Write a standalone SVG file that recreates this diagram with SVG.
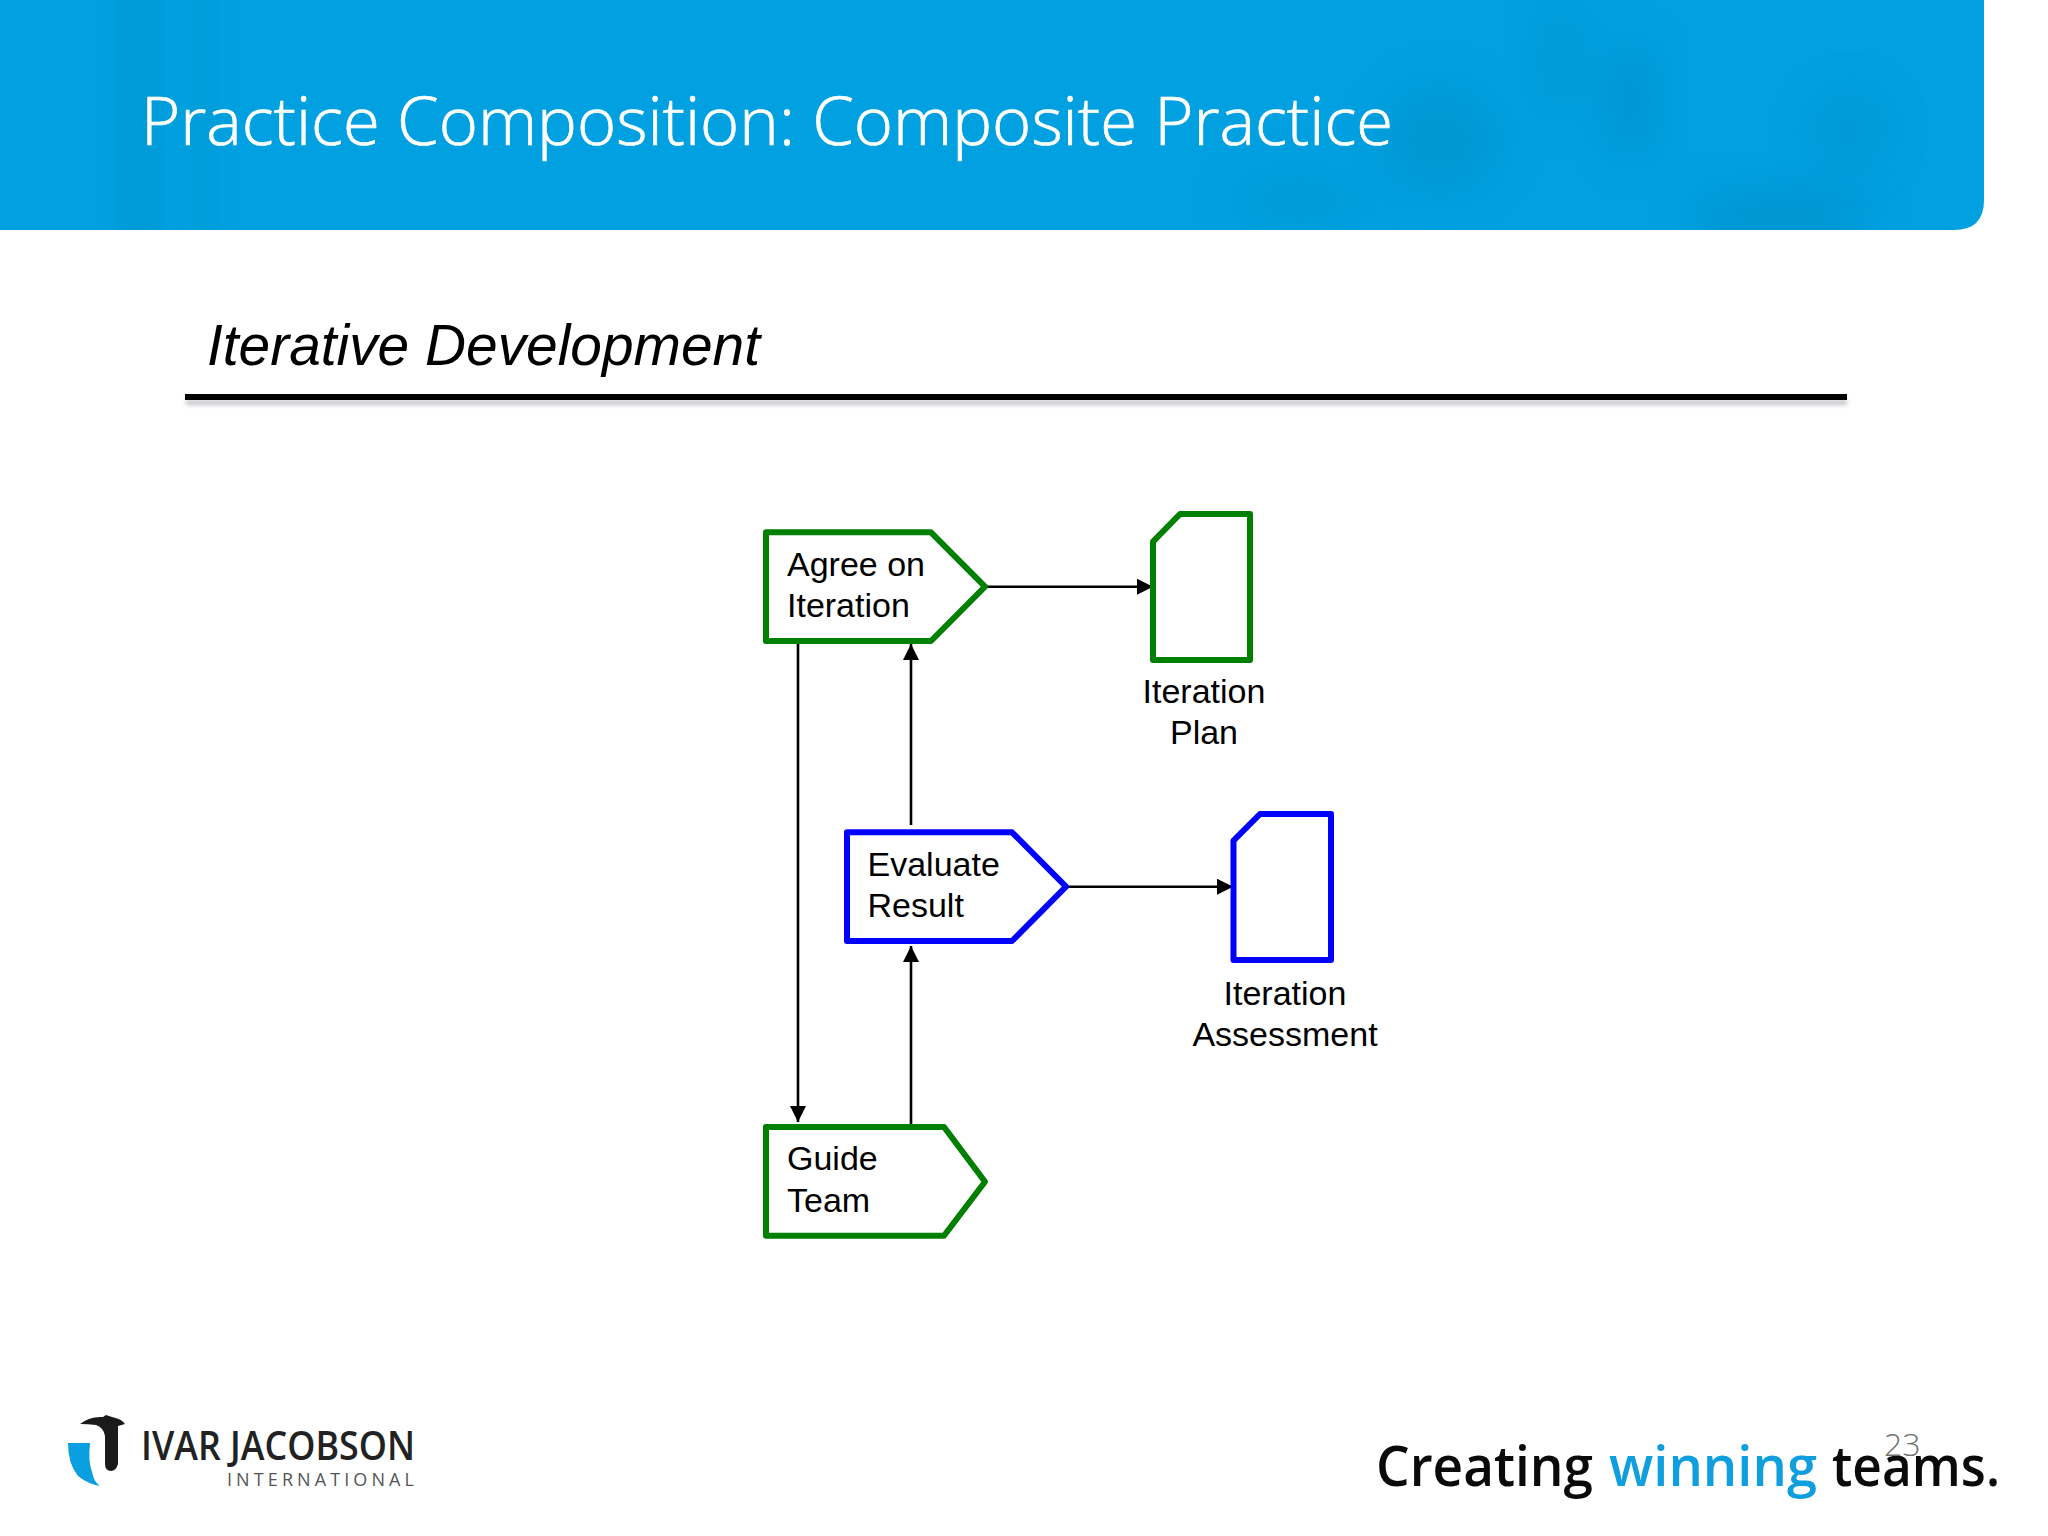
<svg xmlns="http://www.w3.org/2000/svg" width="2048" height="1536" viewBox="0 0 2048 1536">
<defs>
<style>
.g{fill:#fff;stroke:#008000;stroke-width:6;stroke-linejoin:round}
.b{fill:#fff;stroke:#0000ff;stroke-width:6;stroke-linejoin:round}
.t{font-family:"Liberation Sans",Arial,sans-serif;font-size:34px;fill:#000}
.m{text-anchor:middle}
.c{fill:none;stroke:#000;stroke-width:2.6}
.hdr{font-family:"Open Sans","Noto Sans",sans-serif}
</style>
<marker id="arr" viewBox="0 0 16 16" refX="16" refY="8" markerWidth="16" markerHeight="16" markerUnits="userSpaceOnUse" orient="auto"><path d="M0 0L16 8L0 16Z" fill="#000"/></marker>
<filter id="blur" x="-60%" y="-60%" width="220%" height="220%"><feGaussianBlur stdDeviation="20"/></filter>
<filter id="blurx" x="-100%" y="-10%" width="300%" height="120%"><feGaussianBlur stdDeviation="10 0"/></filter>
<filter id="sh" x="-2%" y="-200%" width="104%" height="500%"><feGaussianBlur stdDeviation="2"/></filter>
<clipPath id="hc"><path d="M0 0H1984V200Q1984 230 1954 230H0Z"/></clipPath>
</defs>
<rect width="2048" height="1536" fill="#fff"/>
<g id="header">
<path d="M0 0H1984V200Q1984 230 1954 230H0Z" fill="#01a0e0"/>
<g clip-path="url(#hc)">
<rect x="120" y="0" width="40" height="230" fill="#0090c4" opacity=".3" filter="url(#blurx)"/>
<rect x="190" y="0" width="30" height="230" fill="#0090c4" opacity=".2" filter="url(#blurx)"/>
<ellipse cx="1560" cy="60" rx="24" ry="60" fill="#0090c8" opacity=".4" filter="url(#blur)"/>
<ellipse cx="1440" cy="140" rx="60" ry="55" fill="#0090c8" opacity=".5" filter="url(#blur)"/>
<ellipse cx="1630" cy="100" rx="25" ry="60" fill="#008cc4" opacity=".55" filter="url(#blur)"/>
<ellipse cx="1850" cy="130" rx="40" ry="40" fill="#0090c8" opacity=".4" filter="url(#blur)"/>
<ellipse cx="1780" cy="215" rx="90" ry="26" fill="#008cc4" opacity=".55" filter="url(#blur)"/>
<ellipse cx="1300" cy="200" rx="70" ry="30" fill="#0090c8" opacity=".3" filter="url(#blur)"/>
</g>
<text x="141" y="145" class="hdr" font-size="66" font-weight="300" fill="#fff" stroke="#fff" stroke-width=".7" textLength="1252" lengthAdjust="spacingAndGlyphs">Practice Composition: Composite Practice</text>
</g>
<g id="subtitle">
<text x="207" y="365" font-family="'Liberation Sans',Arial,sans-serif" font-style="italic" font-size="57" fill="#000" textLength="553" lengthAdjust="spacingAndGlyphs">Iterative Development</text>
<rect x="186" y="400" width="1661" height="5" fill="#c4c4ca" filter="url(#sh)"/>
<rect x="185" y="394" width="1662" height="6" fill="#000"/>
</g>
<g id="connectors">
<line class="c" x1="985" y1="586.7" x2="1153" y2="586.7" marker-end="url(#arr)"/>
<line class="c" x1="1066" y1="886.7" x2="1233" y2="886.7" marker-end="url(#arr)"/>
<line class="c" x1="798" y1="641" x2="798" y2="1122" marker-end="url(#arr)"/>
<line class="c" x1="911" y1="825" x2="911" y2="644" marker-end="url(#arr)"/>
<line class="c" x1="911" y1="1127" x2="911" y2="946" marker-end="url(#arr)"/>
</g>
<g id="agree-on-iteration">
<path class="g" d="M766 532.3H931L985 586.7L931 641H766Z"/>
<text class="t" x="787" y="576">Agree on</text><text class="t" x="787" y="617">Iteration</text>
</g>
<g id="iteration-plan">
<path class="g" d="M1153 541.7L1180 514H1250V660H1153Z"/>
<text class="t m" x="1204" y="703">Iteration</text><text class="t m" x="1204" y="743.5">Plan</text>
</g>
<g id="evaluate-result">
<path class="b" d="M847 832.3H1012L1066 886.7L1012 941H847Z"/>
<text class="t" x="867.5" y="876">Evaluate</text><text class="t" x="867.5" y="917">Result</text>
</g>
<g id="iteration-assessment">
<path class="b" d="M1233.5 840.7L1260 814H1331V960H1233.5Z"/>
<text class="t m" x="1285" y="1005">Iteration</text><text class="t m" x="1285" y="1046">Assessment</text>
</g>
<g id="guide-team">
<path class="g" d="M766 1127H944L985 1181.7L944 1235.7H766Z"/>
<text class="t" x="787" y="1170">Guide</text><text class="t" x="787" y="1212">Team</text>
</g>
<g id="logo">
<path d="M80 1424Q90 1416 103 1417L106 1415L112 1417Q122 1419 125 1424L118 1426V1464Q116 1471 111 1471Q105 1471 105 1464V1436Q104 1428 96 1425Q88 1424 80 1424Z" fill="#1b1b1b"/>
<path d="M68 1443H90Q88 1462 92 1472Q94 1482 100 1486Q88 1484 78 1476Q68 1464 68 1443Z" fill="#0a9fe0"/>
<text x="141" y="1460" class="hdr" font-size="40" font-weight="600" fill="#222" textLength="274" lengthAdjust="spacingAndGlyphs">IVAR JACOBSON</text>
<text x="227" y="1486" class="hdr" font-size="18" font-weight="400" fill="#555" textLength="187">INTERNATIONAL</text>
</g>
<g id="tagline">
<text y="1486" class="hdr" font-size="56" font-weight="600" fill="#0a0a0a"><tspan x="1376" textLength="217" lengthAdjust="spacingAndGlyphs">Creating</tspan><tspan x="1609" fill="#0f9fdf" textLength="208" lengthAdjust="spacingAndGlyphs">winning</tspan><tspan x="1832" textLength="168" lengthAdjust="spacingAndGlyphs">teams.</tspan></text>
<text x="1884" y="1456" class="hdr" font-size="32" font-weight="300" fill="#707070">23</text>
</g>
</svg>
